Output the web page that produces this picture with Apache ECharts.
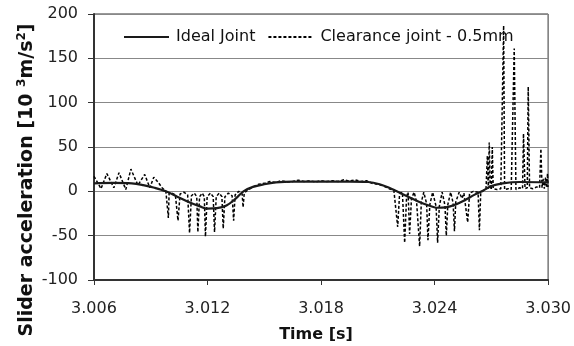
<!DOCTYPE html>
<html>
<head>
<meta charset="utf-8">
<script src="https://cdn.jsdelivr.net/npm/echarts@6/dist/echarts.min.js"></script>
<style>html,body{margin:0;padding:0;background:#fff;}#c{width:574px;height:346px;}</style>
</head>
<body>
<div id="c"></div>
<script>
// ---- data ----
const seriesNames = ['Ideal Joint', 'Clearance joint - 0.5mm'];
const xTicks = [3.006, 3.012, 3.018, 3.024, 3.030];
const yTicks = [-100, -50, 0, 50, 100, 150, 200];

const idealTime = [3.0060,3.0070,3.0080,3.0086,3.0092,3.0098,3.0104,3.0110,3.0116,3.0120,3.0125,3.0130,3.0135,3.0139,3.0144,3.0150,3.0156,3.0165,3.0175,3.0185,3.0195,3.0205,3.0211,3.0216,3.0220,3.0226,3.0232,3.0237,3.0241,3.0246,3.0251,3.0256,3.0261,3.0265,3.0270,3.0276,3.0285,3.0300];
const idealAccel = [9,9.5,9,7,4,0,-6,-12,-17,-19.5,-19,-16,-8,0,5,8,10,11,11,11,11,10.5,8,4,0,-6,-12,-16,-18.5,-18,-15,-10,-4,0,6,9,10.5,10];

const clearTime = [3.00600,3.00610,3.00637,3.00668,3.00705,3.00732,3.00768,3.00795,3.00832,3.00868,3.00895,3.00916,3.00940,3.00960,3.00980,3.00990,3.00993,3.00997,3.01010,3.01030,3.01044,3.01055,3.01075,3.01095,3.01105,3.01115,3.01130,3.01143,3.01149,3.01158,3.01172,3.01183,3.01189,3.01198,3.01215,3.01230,3.01237,3.01246,3.01262,3.01276,3.01283,3.01292,3.01310,3.01330,3.01338,3.01346,3.01365,3.01383,3.01388,3.01394,3.01410,3.01440,3.01470,3.01500,3.01530,3.01560,3.01590,3.01620,3.01650,3.01680,3.01710,3.01740,3.01770,3.01800,3.01830,3.01860,3.01890,3.01920,3.01950,3.01980,3.02010,3.02040,3.02070,3.02100,3.02130,3.02160,3.02185,3.02195,3.02205,3.02215,3.02230,3.02242,3.02252,3.02260,3.02268,3.02278,3.02292,3.02305,3.02321,3.02330,3.02343,3.02358,3.02365,3.02375,3.02390,3.02408,3.02416,3.02425,3.02440,3.02455,3.02462,3.02470,3.02485,3.02498,3.02505,3.02512,3.02530,3.02545,3.02555,3.02575,3.02585,3.02605,3.02630,3.02637,3.02644,3.02660,3.02672,3.02679,3.02684,3.02689,3.02694,3.02700,3.02705,3.02710,3.02730,3.02750,3.02760,3.02765,3.02770,3.02790,3.02805,3.02821,3.02830,3.02850,3.02865,3.02870,3.02878,3.02890,3.02895,3.02902,3.02920,3.02940,3.02955,3.02962,3.02968,3.02975,3.02980,3.02987,3.02992,3.02997,3.03000];
const clearAccel = [17,19,3,20,4,21,2,25,7,19,4,16,10,4,0,-2,-30,-2,-2,-4,-33,-3,-1,-4,-47,-5,-2,-6,-46,-6,-2,-6,-51,-6,-2,-6,-46,-6,-2,-6,-42,-6,-2,-5,-33,-4,0,-3,-18,-2,1,5,8,9,11,10,12,10.5,11,12.5,11,12,10.5,12,11,12,11,13,11.5,13,11,12,9,8,6,3,1,-1,-40,-3,-1,-58,-6,-1,-48,-8,-1,-12,-62,-12,-1,-14,-55,-15,-1,-17,-58,-17,-1,-16,-50,-15,-1,-13,-45,-12,-1,-8,-2,-35,-2,0,-1,-44,-1,1,3,40,3,55,5,2,50,3,2,3,2,187,2,3,2,161,2,4,3,65,3,4,118,4,3,5,4,48,4,14,3,16,4,20,5];

const zip = (a, b) => a.map((t, i) => [t, b[i]]);

const chart = echarts.init(document.getElementById('c'), null, {renderer: 'canvas'});
const font = '"DejaVu Sans", "Liberation Sans", sans-serif';
chart.setOption({
  animation: false,
  backgroundColor: '#fff',
  grid: {left: 94, right: 25, top: 14, bottom: 66, show: true, borderColor: '#333', borderWidth: 1, backgroundColor: 'transparent'},
  legend: {
    left: 118, top: 24, itemWidth: 45, itemHeight: 16, itemGap: 12,
    itemStyle: {opacity: 0, borderWidth: 0},
    textStyle: {fontFamily: font, fontSize: 16, color: '#111', padding: [0, 0, 0, 2]},
    data: seriesNames
  },
  xAxis: {
    type: 'value', min: xTicks[0], max: xTicks[xTicks.length - 1], interval: 0.006,
    axisLine: {onZero: false, lineStyle: {color: '#333', width: 2}},
    axisTick: {show: true, length: 5, lineStyle: {color: '#333', width: 1}},
    axisLabel: {margin: 21, fontFamily: font, fontSize: 16, color: '#222', formatter: v => v.toFixed(3)},
    splitLine: {show: false}
  },
  yAxis: {
    type: 'value', min: yTicks[0], max: yTicks[yTicks.length - 1], interval: 50,
    axisLine: {show: true, lineStyle: {color: '#333', width: 2}},
    axisTick: {show: true, length: 6, lineStyle: {color: '#333', width: 1}},
    axisLabel: {margin: 16, fontFamily: font, fontSize: 16, color: '#222'},
    splitLine: {show: true, lineStyle: {color: '#888', width: 1}}
  },
  graphic: [
    {
      type: 'text', x: 27, y: 180, rotation: Math.PI / 2,
      style: {
        text: 'Slider acceleration [10 {sup|3}m/s{sup|2}]',
        font: 'bold 19px ' + font,
        fill: '#111',
        align: 'center', verticalAlign: 'middle',
        textAlign: 'center', textVerticalAlign: 'middle',
        rich: {sup: {fontSize: 12, fontWeight: 'bold', fontFamily: 'DejaVu Sans', verticalAlign: 'top', lineHeight: 22, fill: '#111'}}
      }
    },
    {
      type: 'text', x: 316, y: 335,
      style: {
        text: 'Time [s]', font: 'bold 16px ' + font, fill: '#111',
        align: 'center', verticalAlign: 'middle', textAlign: 'center', textVerticalAlign: 'middle'
      }
    }
  ],
  series: [
    {
      name: seriesNames[0], type: 'line', data: zip(idealTime, idealAccel),
      smooth: 0.35, showSymbol: false, symbol: 'none',
      lineStyle: {color: '#1a1a1a', width: 2.2}, itemStyle: {color: '#1a1a1a'}, z: 3
    },
    {
      name: seriesNames[1], type: 'line', data: zip(clearTime, clearAccel),
      showSymbol: false, symbol: 'none',
      lineStyle: {color: '#000', width: 1.5, type: [3, 2]}, itemStyle: {color: '#000'}, z: 2
    }
  ]
});
</script>
</body>
</html>
